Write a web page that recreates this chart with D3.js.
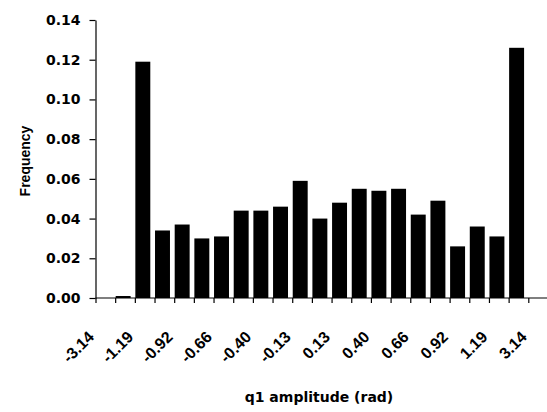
<!DOCTYPE html>
<html>
<head>
<meta charset="utf-8">
<script src="https://cdn.jsdelivr.net/npm/d3@7"></script>
<style>
  html, body { margin: 0; padding: 0; background: #fff; }
  svg { display: block; }
</style>
</head>
<body>
<svg id="chart" width="547" height="412"></svg>
<script>
// ---- data ----
const bins = d3.range(1, 23).map(i => "bin" + i);            // 22 histogram bins
const frequency = [0, 0.001, 0.119, 0.034, 0.037, 0.030, 0.031, 0.044, 0.044, 0.046,
                   0.059, 0.040, 0.048, 0.055, 0.054, 0.055, 0.042, 0.049, 0.026, 0.036,
                   0.031, 0.126];
const edgeLabels = ["-3.14", "-1.19", "-0.92", "-0.66", "-0.40", "-0.13",
                    "0.13", "0.40", "0.66", "0.92", "1.19", "3.14"];   // every 2nd bin edge
const yTicks = [0, 0.02, 0.04, 0.06, 0.08, 0.10, 0.12, 0.14];
const xTitle = "q1 amplitude (rad)";
const yTitle = "Frequency";

// ---- layout ----
const W = 547, H = 412;
const x0 = 95.5, x1 = 528.3, yTop = 20, yBot = 298;

const svg = d3.select("#chart");

const y = d3.scaleLinear().domain([0, 0.14]).range([yBot, yTop]);
const xBand = d3.scaleBand().domain(bins).range([x0, x1])
  .paddingInner(0.24).paddingOuter(0.12).align(0);
const xEdge = d3.scaleLinear().domain([0, bins.length]).range([x0, x1]);

// bars
svg.append("g").selectAll("rect")
  .data(bins.map((b, i) => ({ b, v: frequency[i] })))
  .join("rect")
  .attr("x", d => xBand(d.b) + 0.5)
  .attr("y", d => y(d.v))
  .attr("width", xBand.bandwidth())
  .attr("height", d => yBot - y(d.v))
  .attr("fill", "#000");

// y axis
const yAxis = svg.append("g")
  .attr("transform", `translate(${x0},0)`)
  .call(d3.axisLeft(y).tickValues(yTicks).tickFormat(d3.format(".2f"))
        .tickSize(6).tickSizeOuter(0).tickPadding(9));
yAxis.selectAll("path, line").attr("stroke", "#000").attr("stroke-width", 1.2);
yAxis.selectAll("text")
  .attr("font-family", "DejaVu Sans")
  .attr("font-weight", "bold")
  .attr("font-size", 14)
  .attr("fill", "#000");

// x axis (ticks at bin edges, labels on every 2nd edge)
const edgeIdx = d3.range(bins.length + 1);
const xAxis = svg.append("g")
  .attr("transform", `translate(0,${yBot})`)
  .call(d3.axisBottom(xEdge).tickValues(edgeIdx)
        .tickFormat(i => i % 2 === 0 ? edgeLabels[i / 2] : "")
        .tickSize(5).tickSizeOuter(0));
xAxis.select("path.domain").remove();
xAxis.selectAll("line").attr("stroke", "#000").attr("stroke-width", 1.2);
xAxis.selectAll("text")
  .attr("font-family", "Liberation Sans")
  .attr("font-weight", "bold")
  .attr("font-size", 16)
  .attr("fill", "#000")
  .attr("text-anchor", "end")
  .attr("dy", null)
  .attr("y", null)
  .attr("transform", "translate(-1,40) rotate(-45)");

// baseline extending to the right edge
svg.append("line")
  .attr("x1", x0).attr("x2", W)
  .attr("y1", yBot).attr("y2", yBot)
  .attr("stroke", "#000").attr("stroke-width", 1.2);

// titles
svg.append("text")
  .attr("x", 319).attr("y", 402)
  .attr("text-anchor", "middle")
  .attr("font-family", "DejaVu Sans")
  .attr("font-weight", "bold")
  .attr("font-size", 14)
  .text(xTitle);

svg.append("text")
  .attr("transform", "translate(30,161) rotate(-90)")
  .attr("text-anchor", "middle")
  .attr("font-family", "Liberation Sans")
  .attr("font-weight", "bold")
  .attr("font-size", 14)
  .text(yTitle);
</script>
</body>
</html>
